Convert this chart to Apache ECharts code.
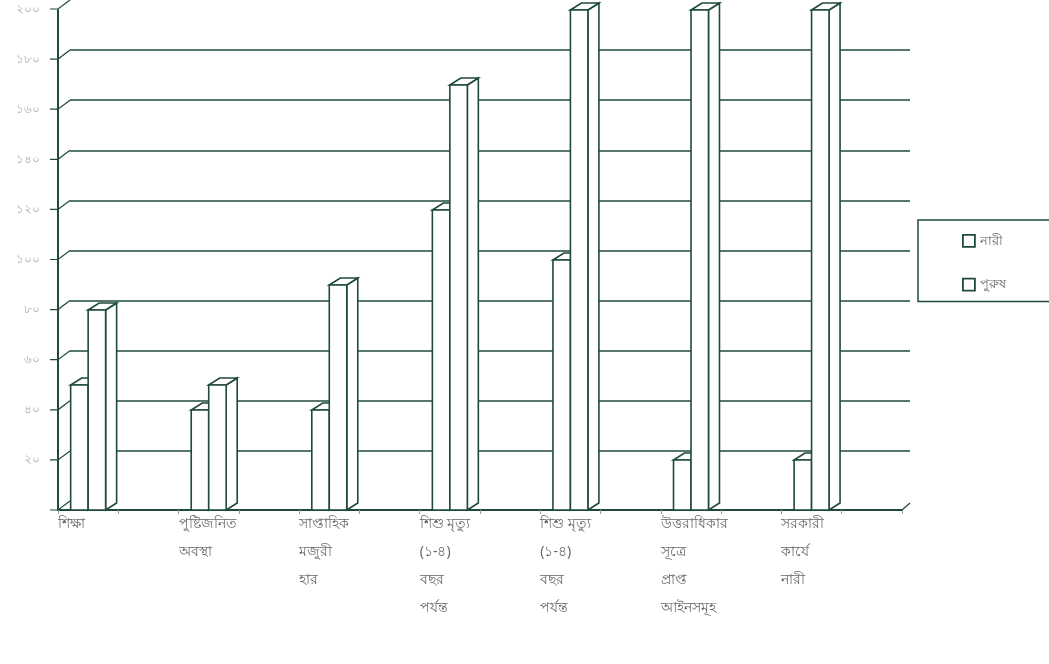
<!DOCTYPE html>
<html>
<head>
<meta charset="utf-8">
<script src="https://cdn.jsdelivr.net/npm/echarts@6/dist/echarts.min.js"></script>
<style>
html,body{margin:0;padding:0;background:#fff;}
#chart{width:1049px;height:664px;}
</style>
</head>
<body>
<div id="chart"></div>
<script>
// ---- data ----
const categories = ['শিক্ষা', 'পুষ্টিজনিত\nঅবস্থা', 'সাপ্তাহিক\nমজুরী\nহার', 'শিশু মৃত্যু\n(১-৪)\nবছর\nপর্যন্ত', 'শিশু মৃত্যু\n(১-৪)\nবছর\nপর্যন্ত', 'উত্তরাধিকার\nসূত্রে\nপ্রাপ্ত\nআইনসমূহ', 'সরকারী\nকার্যে\nনারী'];
const nari = [50, 40, 40, 120, 100, 20, 20];
const purush = [80, 50, 90, 170, 200, 200, 200];
const yTickLabels = ['', '২০', '৪০', '৬০', '৮০', '১০০', '১২০', '১৪০', '১৬০', '১৮০', '২০০'];
const seriesNames = ['নারী', 'পুরুষ'];

// ---- derived ----
const yMax = 200, yStep = 20;
const barCats = [];
categories.forEach((c, i) => { barCats.push('c' + i + 'a'); barCats.push('c' + i + 'b'); });
const labelCats = [];
categories.forEach((c) => { labelCats.push(c); labelCats.push(''); });
labelCats.push('');
const tickVals = yTickLabels.map((t, i) => i * yStep);

const LINE = '#1f4a3b';
const FONT = "'Noto Sans', sans-serif";
const DX = 11, DY = -7;

function barRender(side) {
  return function (params, api) {
    const idx = api.value(0), val = api.value(1);
    const top = api.coord([idx, val]);
    const base = api.coord([idx, 0]);
    const bw = api.size([1, 0])[0] * 0.29;
    const x0 = side === 0 ? top[0] - bw : top[0];
    const x1 = x0 + bw;
    const st = { fill: '#fff', stroke: LINE, lineWidth: 1.6 };
    return {
      type: 'group',
      children: [
        { type: 'polygon', shape: { points: [[x1, top[1]], [x1 + DX, top[1] + DY], [x1 + DX, base[1] + DY], [x1, base[1]]] }, style: st },
        { type: 'polygon', shape: { points: [[x0, top[1]], [x0 + DX, top[1] + DY], [x1 + DX, top[1] + DY], [x1, top[1]]] }, style: st },
        { type: 'rect', shape: { x: x0, y: top[1], width: bw, height: base[1] - top[1] }, style: st }
      ]
    };
  };
}

const chart = echarts.init(document.getElementById('chart'), null, { renderer: 'canvas' });
chart.setOption({
  animation: false,
  backgroundColor: '#fff',
  textStyle: { fontFamily: FONT },
  grid: [
    { left: 70, right: 139, top: 0, bottom: 163 },
    { left: 58, right: 147, top: 10, bottom: 154 }
  ],
  xAxis: [
    { gridIndex: 0, type: 'category', data: categories, show: false },
    { gridIndex: 1, type: 'category', data: barCats, show: false, boundaryGap: true },
    {
      gridIndex: 1, type: 'category', data: labelCats, boundaryGap: false, position: 'bottom',
      axisLine: { show: true, lineStyle: { color: LINE, width: 2 } },
      axisTick: { show: true, interval: 0, length: 4, lineStyle: { color: '#999', width: 1 } },
      axisLabel: { interval: 0, align: 'left', color: '#666', fontSize: 14, lineHeight: 28, margin: 0, fontFamily: FONT }
    }
  ],
  yAxis: [
    {
      gridIndex: 0, type: 'value', min: 0, max: yMax, interval: yStep,
      axisLine: { show: false }, axisTick: { show: false }, axisLabel: { show: false },
      splitLine: { show: true, showMinLine: false, showMaxLine: false, lineStyle: { color: LINE, width: 1.6 } }
    },
    {
      gridIndex: 1, type: 'value', min: 0, max: yMax, interval: yStep,
      axisLine: { show: true, lineStyle: { color: LINE, width: 2 } },
      axisTick: { show: false },
      splitLine: { show: false },
      axisLabel: { color: '#b0b0b0', fontSize: 12, margin: 18, formatter: (v) => yTickLabels[Math.round(v / yStep)] }
    }
  ],
  legend: {
    data: [{ name: seriesNames[0], icon: 'rect' }, { name: seriesNames[1], icon: 'rect' }],
    orient: 'vertical', left: 918, top: 220,
    itemWidth: 12, itemHeight: 12, itemGap: 30,
    padding: [14, 46, 10, 44],
    borderColor: LINE, borderWidth: 1.5,
    itemStyle: { color: '#fff', borderColor: LINE, borderWidth: 1.8 },
    textStyle: { color: '#666', fontSize: 13, fontFamily: FONT }
  },
  series: [
    {
      type: 'custom', name: 'ticks', xAxisIndex: 0, yAxisIndex: 0, silent: true, z: 1,
      data: tickVals.map((v) => [0, v]),
      renderItem: function (params, api) {
        const cs = params.coordSys;
        const y = api.coord([0, api.value(1)])[1];
        return { type: 'polyline', shape: { points: [[cs.x - 20, y + 9], [cs.x - 12, y + 9], [cs.x, y]] }, style: { stroke: LINE, lineWidth: 1.2, fill: null } };
      }
    },
    {
      type: 'custom', name: 'corner', xAxisIndex: 1, yAxisIndex: 1, silent: true, z: 1,
      data: [[0, 0]],
      renderItem: function (params, api) {
        const cs = params.coordSys;
        const x = cs.x + cs.width, y = cs.y + cs.height;
        return { type: 'line', shape: { x1: x, y1: y, x2: x + 8, y2: y - 7 }, style: { stroke: LINE, lineWidth: 1.2 } };
      }
    },
    {
      type: 'custom', name: seriesNames[0], xAxisIndex: 1, yAxisIndex: 1, z: 3,
      itemStyle: { color: '#fff', borderColor: LINE },
      data: nari.map((v, i) => [2 * i, v]),
      renderItem: barRender(0)
    },
    {
      type: 'custom', name: seriesNames[1], xAxisIndex: 1, yAxisIndex: 1, z: 4,
      itemStyle: { color: '#fff', borderColor: LINE },
      data: purush.map((v, i) => [2 * i, v]),
      renderItem: barRender(1)
    }
  ]
});
</script>
</body>
</html>
